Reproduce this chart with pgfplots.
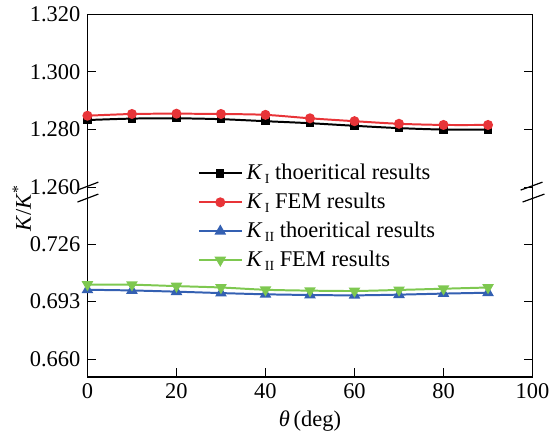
\documentclass[border=0pt]{standalone}
\usepackage{fontspec}
\setmainfont{Liberation Serif}
\usepackage{pgfplots}
\pgfplotsset{compat=1.18}

\definecolor{cRed}{RGB}{232,52,56}
\definecolor{cBlue}{RGB}{52,96,178}
\definecolor{cGreen}{RGB}{126,200,80}

\newcommand{\KI}{\textit{K}\raisebox{-0.35ex}{\fontsize{7}{8}\selectfont\,I}}
\newcommand{\KII}{\textit{K}\raisebox{-0.35ex}{\fontsize{7}{8}\selectfont\,II}}

\pgfplotsset{
  brk/.style={
    scale only axis, width=224pt,
    xmin=0, xmax=100,
    tick align=inside,
    tick style={black, line width=0.6pt},
    axis line style={line width=0.7pt},
    /pgf/number format/assume math mode=true,
    ticklabel style={font=\fontsize{11.3}{13}\selectfont},
    yticklabel style={/pgf/number format/.cd, fixed, fixed zerofill, precision=3},
    every axis plot/.append style={line width=1pt, smooth},
    legend image code/.code={
      \draw[mark repeat=2, mark phase=2, #1]
        plot coordinates {(0pt,0pt) (10.75pt,0pt) (21.5pt,0pt)};},
  },
}

\begin{document}
\begin{tikzpicture}[x=1pt, y=1pt]
\path (-44,-29) rectangle (234,189);

% lower part: K_II
\begin{axis}[brk, at={(0,0)}, anchor=south west, height=94pt,
    axis x line*=bottom,
    ymin=0.6498, ymax=0.757,
    ytick={0.660,0.693,0.726},
    xtick={0,20,40,60,80,100},
    xlabel={\textit{θ}\,(deg)},
    xlabel style={font=\fontsize{11.3}{13}\selectfont, yshift=1pt},
  ]
  \addplot[cBlue, mark=triangle*, mark size=2.4pt] coordinates {
    (0,0.6998) (10,0.6994) (20,0.6987) (30,0.6979) (40,0.6972)
    (50,0.6968) (60,0.6966) (70,0.6970) (80,0.6976) (90,0.6981)
  };
  \addplot[cGreen, mark=triangle*, mark options={rotate=180}, mark size=2.4pt] coordinates {
    (0,0.7028) (10,0.7027) (20,0.7019) (30,0.7011) (40,0.6998)
    (50,0.6993) (60,0.6991) (70,0.6997) (80,0.7004) (90,0.7011)
  };
\end{axis}

% upper part: K_I
\begin{axis}[brk, at={(0,94pt)}, anchor=south west, height=88.5pt,
    axis x line*=top,
    xtick=\empty,
    ymin=1.259, ymax=1.320,
    ytick={1.260,1.280,1.300,1.320},
    legend cell align=left,
    legend style={at={(rel axis cs:0.234,0.195)}, anchor=north west,
      draw=none, fill=none, font=\fontsize{11.3}{13}\selectfont,
      row sep=1.2pt},
  ]
  \addplot[black, mark=square*, mark size=1.6pt] coordinates {
    (0,1.2833) (10,1.2838) (20,1.2839) (30,1.2836) (40,1.2829)
    (50,1.2822) (60,1.2813) (70,1.2805) (80,1.2800) (90,1.2800)
  };
  \addlegendentry{\KI\ thoeritical results}
  \addplot[cRed, mark=*, mark size=2pt] coordinates {
    (0,1.2848) (10,1.2854) (20,1.2855) (30,1.2854) (40,1.2851)
    (50,1.2839) (60,1.2829) (70,1.2820) (80,1.2816) (90,1.2816)
  };
  \addlegendentry{\KI\ FEM results}
  \addlegendimage{cBlue, line width=1pt, mark=triangle*, mark size=2.4pt}
  \addlegendentry{\KII\ thoeritical results}
  \addlegendimage{cGreen, line width=1pt, mark=triangle*, mark options={rotate=180}, mark size=2.4pt}
  \addlegendentry{\KII\ FEM results}
\end{axis}

% break marks
\draw[line width=0.6pt] (-5,94) -- (5.5,98);
\draw[line width=0.6pt] (-5,88) -- (5.5,92);
\draw[line width=0.6pt] (218,94) -- (229,98);
\draw[line width=0.6pt] (219,88) -- (230,92);

% y label
\node[rotate=90, font=\fontsize{11.3}{13}\selectfont] at (-33,85) {\textit{K}/\textit{K}\textsuperscript{*}};
\end{tikzpicture}
\end{document}
